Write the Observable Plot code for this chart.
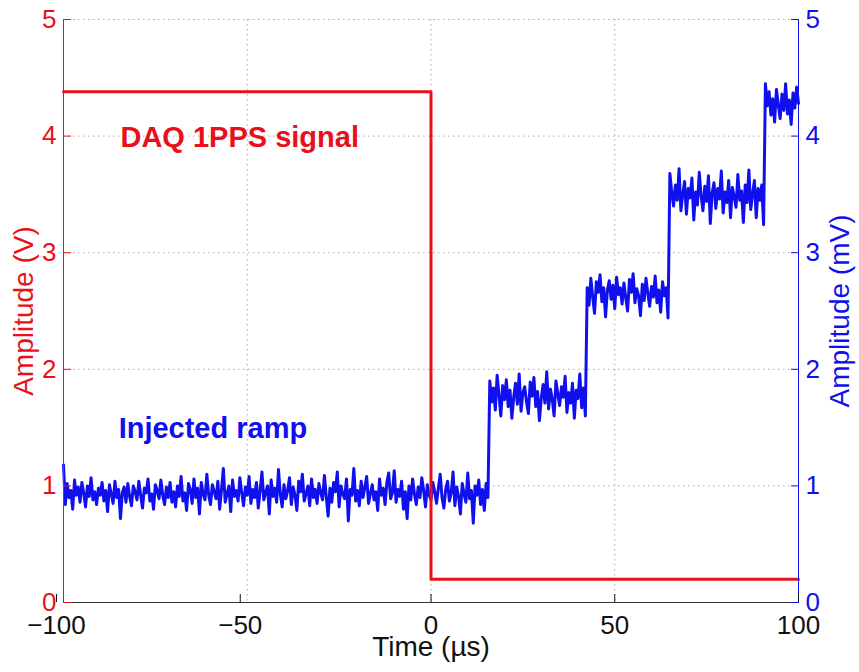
<!DOCTYPE html>
<html>
<head>
<meta charset="utf-8">
<script src="https://cdn.jsdelivr.net/npm/d3@7"></script>
<script src="https://cdn.jsdelivr.net/npm/@observablehq/plot@0.6"></script>
<style>
  html, body { margin: 0; padding: 0; background: #fff; }
</style>
</head>
<body>
<div id="chart"></div>
<script>
// ---- Data ----
const redTime = [-100, 0, 0, 100];          // µs
const redValue = [4.38, 4.38, 0.2, 0.2];    // V

const blueStart = -100;   // µs, first sample
const blueStep = 0.5;     // µs between samples
// Injected ramp, in hundredths of mV, one array per plateau
const blueSeg0 = [
  118, 84, 102, 90, 96, 80, 105, 92, 99, 86, 103, 94, 82, 100, 91, 107, 88, 95, 84, 98,
  92, 103, 87, 96, 78, 101, 93, 85, 104, 90, 97, 72, 94, 99, 86, 102, 91, 83, 100, 95,
  88, 104, 92, 81, 98, 94, 106, 87, 93, 80, 101, 96, 89, 105, 92, 84, 99, 90, 103, 86,
  95, 82, 100, 91, 108, 87, 94, 79, 102, 97, 85, 106, 90, 98, 76, 103, 93, 88, 110, 92,
  84, 101, 95, 89, 104, 80, 97, 115, 86, 93, 100, 78, 105, 91, 96, 87, 107, 94, 83, 99,
  92, 108, 85, 97, 90, 103, 81, 96, 112, 88, 94, 100, 76, 105, 91, 98, 86, 114, 93, 82,
  101, 89, 96, 107, 84, 99, 92, 79, 104, 95, 110, 87, 93, 100, 83, 106, 90, 97, 85, 102,
  94, 88, 109, 91, 74, 98, 86, 103, 95, 112, 82, 100, 93, 89, 106, 70, 97, 92, 115, 87,
  96, 83, 104, 90, 99, 108, 85, 93, 101, 88, 95, 79, 106, 92, 98, 84, 103, 111, 89, 94,
  113, 86, 97, 91, 104, 80, 95, 72, 100, 88, 106, 93, 84, 99, 90, 107, 96, 82, 101, 92,
  88, 103, 95, 85, 98, 110, 90, 81, 97, 104, 87, 94, 112, 83, 99, 91, 76, 102, 93, 86,
  111, 89, 96, 68, 100, 92, 105, 84, 97, 79, 102, 90
];
const blueSeg1 = [
  190, 172, 184, 165, 195, 178, 160, 186, 174, 191, 168, 182, 158, 176, 188, 170, 196, 164, 180, 185,
  172, 162, 189, 177, 193, 168, 181, 156, 175, 187, 171, 198, 166, 183, 174, 160, 190, 179, 169, 185,
  176, 194, 163, 180, 171, 188, 158, 182, 175, 196, 167, 184, 160
];
const blueSeg2 = [
  270, 255, 278, 262, 248, 275, 266, 281, 258, 270, 245, 268, 276, 260, 272, 252, 279, 264, 270, 256,
  274, 261, 250, 277, 266, 282, 257, 269, 263, 246, 273, 259, 278, 265, 254, 271, 262, 280, 257, 268,
  249, 275, 263, 270, 244
];
const blueSeg3 = [
  368, 352, 340, 358, 345, 372, 336, 350, 361, 333, 355, 347, 364, 328, 352, 341, 369, 349, 336, 357,
  344, 366, 325, 351, 360, 338, 355, 346, 370, 334, 352, 343, 362, 330, 356, 348, 339, 367, 345, 353,
  326, 358, 343, 371, 337, 350, 362, 330, 355, 345, 358, 324
];
const blueSeg4 = [
  445, 426, 438, 418, 432, 412, 440, 427, 415, 436, 422, 445, 419, 431, 410, 437, 424, 442, 428
];

const xTicks = [-100, -50, 0, 50, 100];
const yTicks = [0, 1, 2, 3, 4, 5];
const xGrid = [-50, 0, 50];
const yGrid = [1, 2, 3, 4, 5];

const noteText = ["DAQ 1PPS signal", "Injected ramp"];
const noteTime = [-84.5, -85];
const noteValue = [3.99, 1.49];

const xLabel = "Time (µs)";
const yLabelLeft = "Amplitude (V)";
const yLabelRight = "Amplitude (mV)";

// ---- Tables ----
const RED = "#e8111b";
const BLUE = "#1010ee";
const redData = redTime.map((t, i) => ({t, v: redValue[i]}));
const blueAll = [...blueSeg0, ...blueSeg1, ...blueSeg2, ...blueSeg3, ...blueSeg4];
const blueData = blueAll.map((v, i) => ({t: blueStart + i * blueStep, v: v / 100}));
const notes = noteText.map((s, i) => ({s, t: noteTime[i], v: noteValue[i], c: i === 0 ? RED : BLUE}));

const chart = Plot.plot({
  width: 859,
  height: 672,
  marginLeft: 63,
  marginRight: 61,
  marginTop: 19,
  marginBottom: 70,
  style: {fontFamily: "'Liberation Sans', Arial, Helvetica, sans-serif", fontSize: "26px", background: "#fff"},
  x: {domain: [-100, 100]},
  y: {domain: [0, 5]},
  marks: [
    Plot.gridX(xGrid, {stroke: "#888", strokeOpacity: 0.7, strokeDasharray: "1.5,3.5"}),
    Plot.gridY(yGrid, {stroke: "#888", strokeOpacity: 0.7, strokeDasharray: "1.5,3.5"}),
    Plot.line(blueData, {x: "t", y: "v", stroke: BLUE, strokeWidth: 3}),
    Plot.line(redData, {x: "t", y: "v", stroke: RED, strokeWidth: 3}),
    Plot.ruleX([-100], {stroke: RED, strokeWidth: 1}),
    Plot.ruleX([100], {stroke: BLUE, strokeWidth: 1}),
    Plot.ruleY([0], {stroke: "#333", strokeWidth: 1}),
    Plot.axisX({ticks: xTicks.filter(d => d < 0), tickSize: -8, tickPadding: 21, dx: -7, label: null, color: "#111", fontSize: 26}),
    Plot.axisX({ticks: xTicks.filter(d => d >= 0), tickSize: -8, tickPadding: 21, label: null, color: "#111", fontSize: 26}),
    Plot.axisY({anchor: "left", ticks: yTicks, tickFormat: "d", tickSize: -8, tickPadding: 15, label: null, color: RED, fontSize: 26}),
    Plot.axisY({anchor: "right", ticks: yTicks, tickFormat: "d", tickSize: -8, tickPadding: 15, label: null, color: BLUE, fontSize: 26}),
    Plot.text(notes, {x: "t", y: "v", text: "s", fill: "c", textAnchor: "start", fontWeight: "bold", fontSize: 29}),
    Plot.text([xLabel], {frameAnchor: "bottom", dy: 53, fill: "#111", fontSize: 28}),
    Plot.text([yLabelLeft], {frameAnchor: "left", textAnchor: "middle", dx: -39, rotate: -90, fill: RED, fontSize: 28}),
    Plot.text([yLabelRight], {frameAnchor: "right", textAnchor: "middle", dx: 42, rotate: -90, fill: BLUE, fontSize: 28})
  ]
});
document.getElementById("chart").appendChild(chart);
</script>
</body>
</html>
